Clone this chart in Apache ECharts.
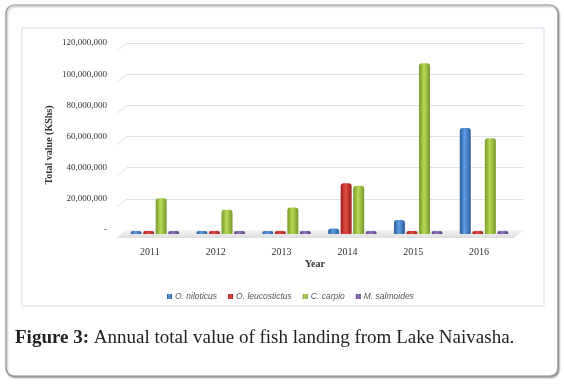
<!DOCTYPE html>
<html>
<head>
<meta charset="utf-8">
<script src="https://cdn.jsdelivr.net/npm/echarts@6/dist/echarts.min.js"></script>
<style>
  html, body { margin: 0; padding: 0; background: #fff; }
  #chart { width: 564px; height: 385px; }
</style>
</head>
<body>
<div id="chart"></div>
<script>
// values in KShs
var years = ['2011', '2012', '2013', '2014', '2015', '2016'];
var niloticus = [300000, 300000, 1200000, 3600000, 9000000, 68000000];
var leucostictus = [300000, 300000, 400000, 32500000, 1500000, 500000];
var carpio = [23000000, 15500000, 17000000, 31000000, 109500000, 61500000];
var salmoides = [600000, 500000, 600000, 600000, 1000000, 600000];
var speciesNames = ['O. niloticus', 'O. leucostictus', 'C. carpio', 'M. salmoides'];
var yMin = 0, yMax = 120000000, yStep = 20000000;

var serif = '"Liberation Serif", "Times New Roman", serif';

// back wall (gridlines) and front (bars) of the 3D plot
var back = { left: 127, right: 40, top: 43, bottom: 155 };
var front = { left: 122, right: 47, top: 47, bottom: 151 };
var depthX = 10, depthY = 8;

function fmt(v) {
    if (v === 0) return '-';
    return String(v).replace(/\B(?=(\d{3})+(?!\d))/g, ',');
}

function cyl(dark, light) {
    return new echarts.graphic.LinearGradient(0, 0, 1, 0, [
        { offset: 0, color: dark },
        { offset: 0.45, color: light },
        { offset: 1, color: dark }
    ]);
}

var colors = [
    cyl('#2b5d9c', '#5d9de2'),
    cyl('#9a1f1c', '#e34b40'),
    cyl('#76992a', '#b6d957'),
    cyl('#573f80', '#9579c2')
];
var flat = ['#3a75c0', '#c8302c', '#9bc43c', '#7b5ea7'];
var allData = [niloticus, leucostictus, carpio, salmoides];

var chart = echarts.init(document.getElementById('chart'));

var series = allData.map(function (d, i) {
    return {
        name: speciesNames[i],
        type: 'bar',
        xAxisIndex: 0,
        yAxisIndex: 0,
        data: d,
        barWidth: 11,
        barGap: '14%',
        barMinHeight: 3,
        z: 3,
        itemStyle: { color: colors[i], borderRadius: [3, 3, 1, 1] }
    };
});

var option = {
    animation: false,
    textStyle: { fontFamily: serif },
    grid: [
        Object.assign({}, front),
        Object.assign({}, back)
    ],
    xAxis: [
        {
            gridIndex: 0,
            type: 'category',
            data: years,
            axisLine: { show: false },
            axisTick: { show: false },
            axisLabel: { margin: 13, fontSize: 10, color: '#333', fontFamily: serif, padding: [0, 10, 0, 0] },
            name: 'Year',
            nameLocation: 'middle',
            nameGap: 25,
            nameTextStyle: { fontSize: 10, fontWeight: 'bold', color: '#333', fontFamily: serif, padding: [0, 9, 0, 0] }
        },
        { gridIndex: 1, type: 'category', data: years, show: false }
    ],
    yAxis: [
        {
            gridIndex: 0, type: 'value', min: yMin, max: yMax, interval: yStep,
            axisLine: { show: false }, axisTick: { show: false },
            axisLabel: { show: false }, splitLine: { show: false }
        },
        {
            gridIndex: 1, type: 'value', min: yMin, max: yMax, interval: yStep,
            axisLine: { show: false }, axisTick: { show: false },
            axisLabel: {
                margin: 20, fontSize: 9, color: '#333', fontFamily: serif,
                padding: [16, 0, 0, 0],
                formatter: fmt
            },
            splitLine: { lineStyle: { color: '#dbe2ee', width: 1 } }
        }
    ],
    legend: {
        data: speciesNames,
        top: 287,
        left: 162,
        icon: 'rect',
        itemWidth: 5,
        itemHeight: 5,
        itemGap: 11,
        textStyle: { fontSize: 8.5, fontStyle: 'italic', color: '#555', fontFamily: '"Liberation Sans", Arial, sans-serif', padding: [0, 0, 0, -2] }
    },
    color: flat,
    series: series,
    graphic: []
};

chart.setOption(option);

// decorations: frame, inner box, 3D floor, left side wall ticks, captions
var g = [];
g.push({
    type: 'rect', z: 0, silent: true,
    shape: { x: 6, y: 5, width: 552, height: 371, r: 8 },
    style: { fill: '#fff', stroke: '#8c8c8c', lineWidth: 1.2, shadowBlur: 2, shadowOffsetX: 1, shadowOffsetY: 1.5, shadowColor: 'rgba(0,0,0,0.35)' }
});
g.push({
    type: 'rect', z: 1, silent: true,
    shape: { x: 22, y: 28, width: 522, height: 278 },
    style: { fill: 'none', stroke: '#d5deea', lineWidth: 1 }
});

var bl = back.left, br = 564 - back.right;
var yZero = chart.convertToPixel({ yAxisIndex: 1 }, 0);
g.push({
    type: 'polygon', z: 2, silent: true,
    shape: { points: [[bl - depthX, yZero + depthY], [br - depthX, yZero + depthY], [br, yZero], [bl, yZero]] },
    style: {
        fill: new echarts.graphic.LinearGradient(0, 0, 0, 1, [
            { offset: 0, color: '#f3f3f3' }, { offset: 1, color: '#dedede' }
        ])
    }
});
for (var v = yMin; v <= yMax; v += yStep) {
    var yy = chart.convertToPixel({ yAxisIndex: 1 }, v);
    g.push({
        type: 'line', z: 1, silent: true,
        shape: { x1: bl - depthX, y1: yy + depthY, x2: bl, y2: yy },
        style: { stroke: '#dbe2ee', lineWidth: 1 }
    });
}
g.push({
    type: 'text', z: 5, silent: true,
    x: 49, y: 145, rotation: Math.PI / 2,
    style: { text: 'Total value (KShs)', font: 'bold 10px ' + serif, fill: '#333', align: 'center', verticalAlign: 'middle' }
});
g.push({
    type: 'text', z: 5, silent: true,
    x: 15, y: 338,
    style: {
        text: '{b|Figure 3:} Annual total value of fish landing from Lake Naivasha.',
        font: '19px ' + serif, fill: '#222', verticalAlign: 'middle',
        rich: { b: { font: 'bold 19px ' + serif, fill: '#222' } }
    }
});
chart.setOption({ graphic: g });
</script>
</body>
</html>
